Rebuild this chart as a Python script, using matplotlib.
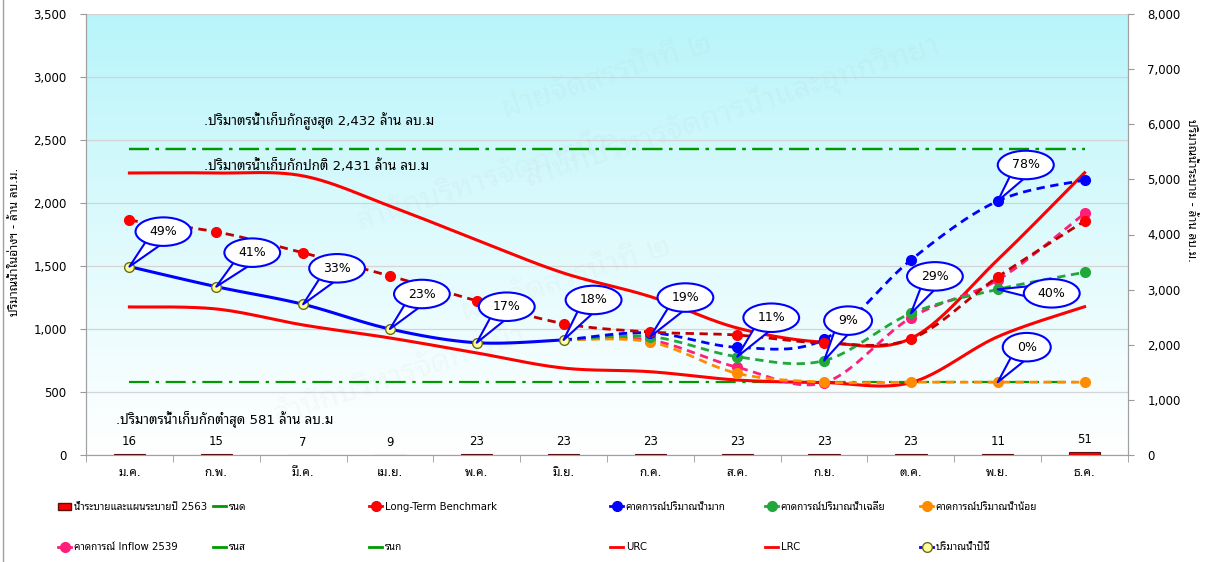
import numpy as np
import matplotlib
matplotlib.use("Agg")
import matplotlib.pyplot as plt
from matplotlib import font_manager
from matplotlib.lines import Line2D
from matplotlib.patches import Patch
from matplotlib.path import Path

# ---- data (million m3) ----
months = ["ม.ค.", "ก.พ.", "มี.ค.", "เม.ย.", "พ.ค.", "มิ.ย.",
          "ก.ค.", "ส.ค.", "ก.ย.", "ต.ค.", "พ.ย.", "ธ.ค."]
release_2563 = [16, 15, 7, 9, 23, 23, 23, 23, 23, 23, 11, 51]
this_year = [1495, 1336, 1196, 1000, 891, 913]
long_term = [1862, 1771, 1605, 1421, 1224, 1043, 976, 952, 889, 921, 1413, 1857]
urc = [2238, 2238, 2215, 1976, 1706, 1444, 1257, 1008, 895, 925, 1550, 2240]
lrc = [1175, 1159, 1032, 929, 810, 690, 661, 595, 575, 575, 939, 1177]
# forecasts run from มิ.ย. to ธ.ค.
fc_wet = [913, 970, 855, 918, 1548, 2016, 2183]
fc_avg = [913, 940, 780, 749, 1124, 1315, 1450]
fc_dry = [913, 897, 648, 578, 578, 578, 578]
fc_2539 = [913, 912, 696, 574, 1090, 1389, 1918]
max_storage = 2432
normal_storage = 2431
min_storage = 581

# percent call-outs: (series, month index, label)
callouts_this = ["49%", "41%", "33%", "23%", "17%", "18%"]
callouts_fc = [("avg", 6, "19%"), ("avg", 7, "11%"), ("avg", 8, "9%"),
               ("avg", 9, "29%"), ("wet", 10, "78%"), ("avg", 10, "40%"),
               ("dry", 10, "0%")]

# ---- fonts: Thai needs a fallback family ----
available = {f.name for f in font_manager.fontManager.ttflist}
thai_pref = ["Tahoma", "Noto Sans Thai Looped", "Noto Sans Thai",
             "IBM Plex Sans Thai Looped", "Sarabun"]
thai = next((n for n in thai_pref if n in available), "DejaVu Sans")
if thai == "Tahoma":
    plt.rcParams["font.family"] = ["Tahoma", "DejaVu Sans"]
else:
    plt.rcParams["font.family"] = ["DejaVu Sans", thai]


def smooth(xs, ys, n=24):
    # Catmull-Rom through the points, like Excel's smoothed line
    pts = np.column_stack([xs, ys]).astype(float)
    p = np.vstack([pts[0], pts, pts[-1]])
    out = []
    t = np.linspace(0, 1, n, endpoint=False)[:, None]
    for i in range(1, len(p) - 2):
        p0, p1, p2, p3 = p[i - 1], p[i], p[i + 1], p[i + 2]
        seg = 0.5 * (2 * p1 + (-p0 + p2) * t + (2 * p0 - 5 * p1 + 4 * p2 - p3) * t ** 2
                     + (-p0 + 3 * p1 - 3 * p2 + p3) * t ** 3)
        out.append(seg)
    out.append(pts[-1:])
    s = np.vstack(out)
    return s[:, 0], s[:, 1]


def ellipse_box(x0, y0, width, height, mutation_size):
    cx, cy = x0 + width / 2, y0 + height / 2
    rx = width / 2 + 1.12 * mutation_size
    ry = height / 2 + 0.62 * mutation_size
    circ = Path.unit_circle()
    return Path(circ.vertices * [rx, ry] + [cx, cy], circ.codes)


W, H = 1213, 562
fig = plt.figure(figsize=(W / 100, H / 100), dpi=100)
ax = fig.add_axes([86 / W, 1 - 455 / H, (1128 - 86) / W, (455 - 14) / H])
ax2 = ax.twinx()

# gradient background
grad = np.linspace(1, 0, 256)[:, None]
top = np.array([0.72, 0.96, 0.98])
bg = 1 - (1 - top) * grad[..., None] ** 1.1
bg = np.repeat(bg, 2, axis=1)
ax.imshow(bg, extent=(0, 1, 0, 1), transform=ax.transAxes, aspect="auto", zorder=0)

# watermark
wm = dict(color="#9a9a9a", alpha=0.05, rotation=18, fontsize=22, zorder=1,
          ha="center", va="center", transform=ax.transAxes)
ax.text(0.50, 0.86, "ฝ่ายจัดสรรน้ำที่ ๒", **wm)
ax.text(0.62, 0.78, "สำนักบริหารจัดการน้ำและอุทกวิทยา", **wm)
ax.text(0.38, 0.62, "สำนักบริหารจัดการน้ำ", **wm)
ax.text(0.46, 0.40, "ฝ่ายจัดสรรน้ำที่ ๒", **wm)
ax.text(0.30, 0.18, "สำนักบริหารจัดการน้ำ", **wm)

x = np.arange(12)
xf = np.arange(5, 12)

# storage levels
dd = (0, (9, 3, 1.5, 3))
ax.plot([0, 11], [max_storage] * 2, color="#009a00", lw=1.6, ls=dd, zorder=3)
ax.plot([0, 11], [normal_storage] * 2, color="#009a00", lw=1.6, ls=dd, zorder=3)
ax.plot([0, 11], [min_storage] * 2, color="#009a00", lw=1.6, ls=dd, zorder=3)

# rule curves
ax.plot(*smooth(x, urc), color="#ff0000", lw=2.2, zorder=4)
ax.plot(*smooth(x, lrc), color="#ff0000", lw=2.2, zorder=4)

# forecasts
fc_styles = [(fc_2539, "#ff1f7a", "#ff1f7a"), (fc_dry, "#ff8c00", "#ff8c00"),
             (fc_avg, "#22a83a", "#22a83a"), (fc_wet, "#0000ff", "#0000ff")]
for vals, lc, mc in fc_styles:
    ax.plot(*smooth(xf, vals), color=lc, lw=2, ls=(0, (3, 2)), zorder=5)
    ax.plot(xf[1:], vals[1:], "o", color=mc, ms=7, zorder=6)

# long-term benchmark
ax.plot(*smooth(x, long_term), color="#c00000", lw=2, ls=(0, (3, 2)), zorder=6)
ax.plot(x, long_term, "o", color="#ff0000", ms=7, zorder=7)

# this year
ax.plot(*smooth(x[:6], this_year), color="#0000ff", lw=2.2, zorder=8)
ax.plot(x[:6], this_year, "o", mfc="#ffff99", mec="#6b6b1a", mew=1, ms=7, zorder=9)

# call-outs
bub = dict(boxstyle=ellipse_box, fc="white", ec="#0000ff", lw=1.5)
arr = dict(arrowstyle="wedge,tail_width=1.5", fc="white", ec="#0000ff", lw=1.5,
           patchA=None, shrinkA=0, shrinkB=0)
this_off = [(34, 35), (36, 34), (34, 36), (32, 35), (30, 36), (30, 40)]
for i, (lab, off) in enumerate(zip(callouts_this, this_off)):
    ax.annotate(lab, (i, this_year[i]), xytext=(off[0] * 0.72, off[1] * 0.72),
                textcoords="offset points", ha="center", va="center", fontsize=9,
                bbox=bub, arrowprops=arr, zorder=12)
series = {"avg": fc_avg, "wet": fc_wet, "dry": fc_dry}
fc_off = [(35, 39), (34, 39), (24, 40), (24, 37), (28, 36), (54, -4), (29, 35)]
for (name, m, lab), off in zip(callouts_fc, fc_off):
    ax.annotate(lab, (m, series[name][m - 5]), xytext=(off[0] * 0.72, off[1] * 0.72),
                textcoords="offset points", ha="center", va="center", fontsize=9,
                bbox=bub, arrowprops=arr, zorder=12)

# level notes
ax.text(0.86, 2660, ".ปริมาตรน้ำเก็บกักสูงสุด 2,432 ล้าน ลบ.ม", fontsize=9.5, va="center", zorder=10)
ax.text(0.86, 2294, ".ปริมาตรน้ำเก็บกักปกติ 2,431 ล้าน ลบ.ม", fontsize=9.5, va="center", zorder=10)
ax.text(-0.15, 280, ".ปริมาตรน้ำเก็บกักต่ำสุด 581 ล้าน ลบ.ม", fontsize=9.5, va="center", zorder=10)

# release bars on the right axis
bars = ax2.bar(x, release_2563, width=0.36, color="#ff0000", edgecolor="#5a1010", lw=0.8, zorder=3)
for b, v in zip(bars, release_2563):
    ax2.annotate(str(v), (b.get_x() + b.get_width() / 2, v), xytext=(0, 9),
                 textcoords="offset points", ha="center", va="center", fontsize=8.5)

# axes
ax.set_xlim(-0.5, 11.5)
ax.set_ylim(0, 3500)
ax2.set_ylim(0, 8000)
ax.set_yticks(np.arange(0, 3501, 500))
ax.set_yticklabels([f"{v:,}" for v in range(0, 3501, 500)])
ax2.set_yticks(np.arange(0, 8001, 1000))
ax2.set_yticklabels([f"{v:,}" for v in range(0, 8001, 1000)])
ax.set_xticks(x)
ax.set_xticklabels(months)
ax.set_xticks(np.arange(-0.5, 12, 1), minor=True)
ax.tick_params(axis="x", which="major", length=0, pad=8, labelsize=8.5)
ax.tick_params(axis="x", which="minor", length=5, color="#999999")
ax.tick_params(axis="y", length=4, color="#999999", labelsize=8.5, pad=10)
ax2.tick_params(axis="y", length=4, color="#999999", labelsize=8.5, pad=10)
ax.grid(axis="y", color="#d4d4d4", lw=0.9, zorder=1)
ax.set_axisbelow(True)
for a in (ax, ax2):
    a.spines["top"].set_visible(False)
    for s in ("left", "right", "bottom"):
        a.spines[s].set_color("#a0a0a0")

fig.text(15 / W, 1 - 242 / H, "ปริมาณน้ำในอ่างฯ - ล้าน ลบ.ม.", rotation=90,
         ha="center", va="center", fontsize=8.5)
fig.text(1192 / W, 1 - 190 / H, "ปริมาณน้ำระบาย - ล้าน ลบ.ม.", rotation=270,
         ha="center", va="center", fontsize=8.5)

# outer frame line on the left
fig.add_artist(Line2D([3 / W, 3 / W], [0, 1], color="#a0a0a0", lw=1))

# legend, laid out in fixed columns like the original
def mk(color, ls="-", marker="o", mfc=None, mec=None):
    return Line2D([], [], color=color, lw=2, ls=ls, marker=marker, ms=7,
                  mfc=mfc or color, mec=mec or color)

cols = [
    (58, [Patch(fc="#ff0000", ec="#5a1010"), mk("#ff1f7a")],
     ["น้ำระบายและแผนระบายปี 2563", "คาดการณ์ Inflow 2539"]),
    (213, [mk("#009a00", marker=None), mk("#009a00", marker=None)], ["รนด", "รนส"]),
    (369, [mk("#ff0000"), mk("#009a00", marker=None)], ["Long-Term Benchmark", "รนก"]),
    (610, [mk("#0000ff"), mk("#ff0000", marker=None)], ["คาดการณ์ปริมาณน้ำมาก", "URC"]),
    (765, [mk("#22a83a"), mk("#ff0000", marker=None)], ["คาดการณ์ปริมาณน้ำเฉลี่ย", "LRC"]),
    (920, [mk("#ff8c00"), mk("#0000ff", mfc="#ffff99", mec="#6b6b1a")],
     ["คาดการณ์ปริมาณน้ำน้อย", "ปริมาณน้ำปีนี้"]),
]
for cx, hs, ls in cols:
    fig.legend(hs, ls, loc="upper left", bbox_to_anchor=(cx / W, 1 - 502 / H),
               frameon=False, fontsize=7.3, handlelength=1.3, handletextpad=0.25,
               labelspacing=3.0, borderpad=0, borderaxespad=0)

fig.savefig("out.png", dpi=100)
